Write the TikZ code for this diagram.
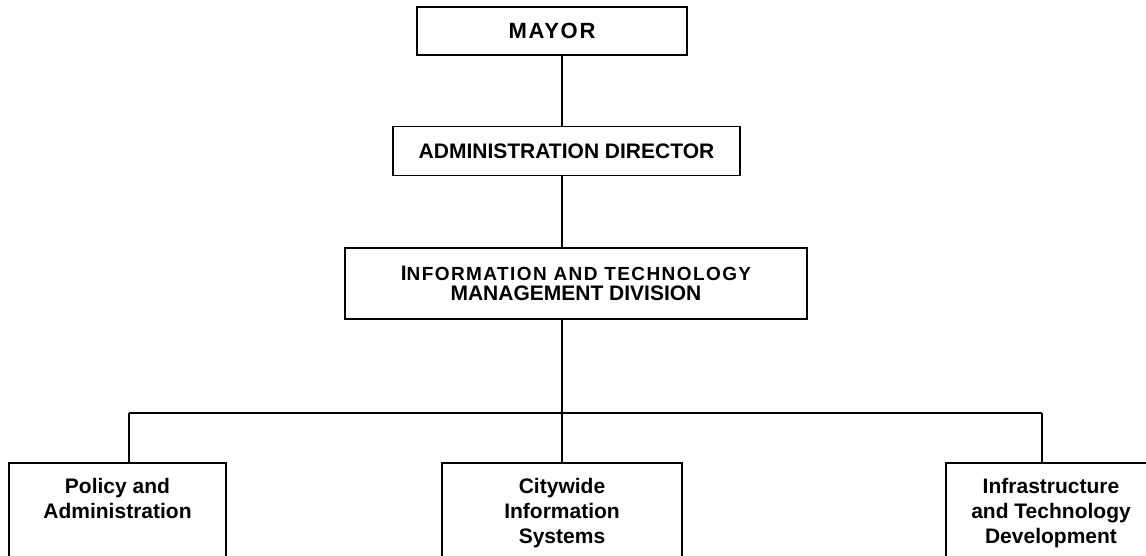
\documentclass[tikz,border=0pt]{standalone}
\usepackage{fontspec}
\setmainfont{Liberation Sans}
\begin{document}
\begin{tikzpicture}[x=1pt,y=-1pt,
  box/.style={draw, line width=1.8pt, inner sep=0pt, align=center,
    font=\bfseries\fontsize{21}{25}\selectfont},
  lbl/.style={inner sep=0pt, align=center, font=\bfseries\fontsize{21}{25}\selectfont},
  conn/.style={line width=1.8pt}]
\useasboundingbox (0,0) rectangle (1146,556);
\clip (0,0) rectangle (1146,556);
% top boxes
\node[box, minimum width=270, minimum height=48,
  font=\bfseries\fontsize{22}{25}\selectfont\addfontfeature{LetterSpace=8}] (mayor) at (552,31) {MAYOR};
\node[box, minimum width=347, minimum height=49] (admin) at (566.5,151) {ADMINISTRATION DIRECTOR};
\node[box, minimum width=462, minimum height=71,
  font=\bfseries\fontsize{21}{20}\selectfont] (itmd) at (576,283.5)
  {I{\fontsize{19}{20}\selectfont\addfontfeature{LetterSpace=7.5}NFORMATION AND TECHNOLOGY}\\MANAGEMENT DIVISION};
% bottom boxes
\node[box, anchor=north, minimum width=217, minimum height=150] (pa) at (117.5,462) {};
\node[box, anchor=north, minimum width=240, minimum height=150] (cis) at (562,462) {};
\node[box, anchor=north, minimum width=210, minimum height=150] (itd) at (1051,462) {};
\node[lbl, anchor=base] (pa-t) at (117.5,518) {Policy and\\Administration};
\node[lbl, anchor=base] (cis-t) at (562,543) {Citywide\\Information\\Systems};
\node[lbl, anchor=base] (itd-t) at (1051,543) {Infrastructure\\and Technology\\Development};
% connectors
\coordinate (hl) at (129,413);
\coordinate (hr) at (1042,413);
\draw[conn] (mayor.south -| cis.north) -- (admin.north -| cis.north);
\draw[conn] (admin.south -| cis.north) -- (itmd.north -| cis.north);
\draw[conn] (itmd.south -| cis.north) -- (cis.north);
\draw[conn] (hl) -- (hr);
\draw[conn] (hl) -- (hl |- pa.north);
\draw[conn] (hr) -- (hr |- itd.north);
\end{tikzpicture}
\end{document}
